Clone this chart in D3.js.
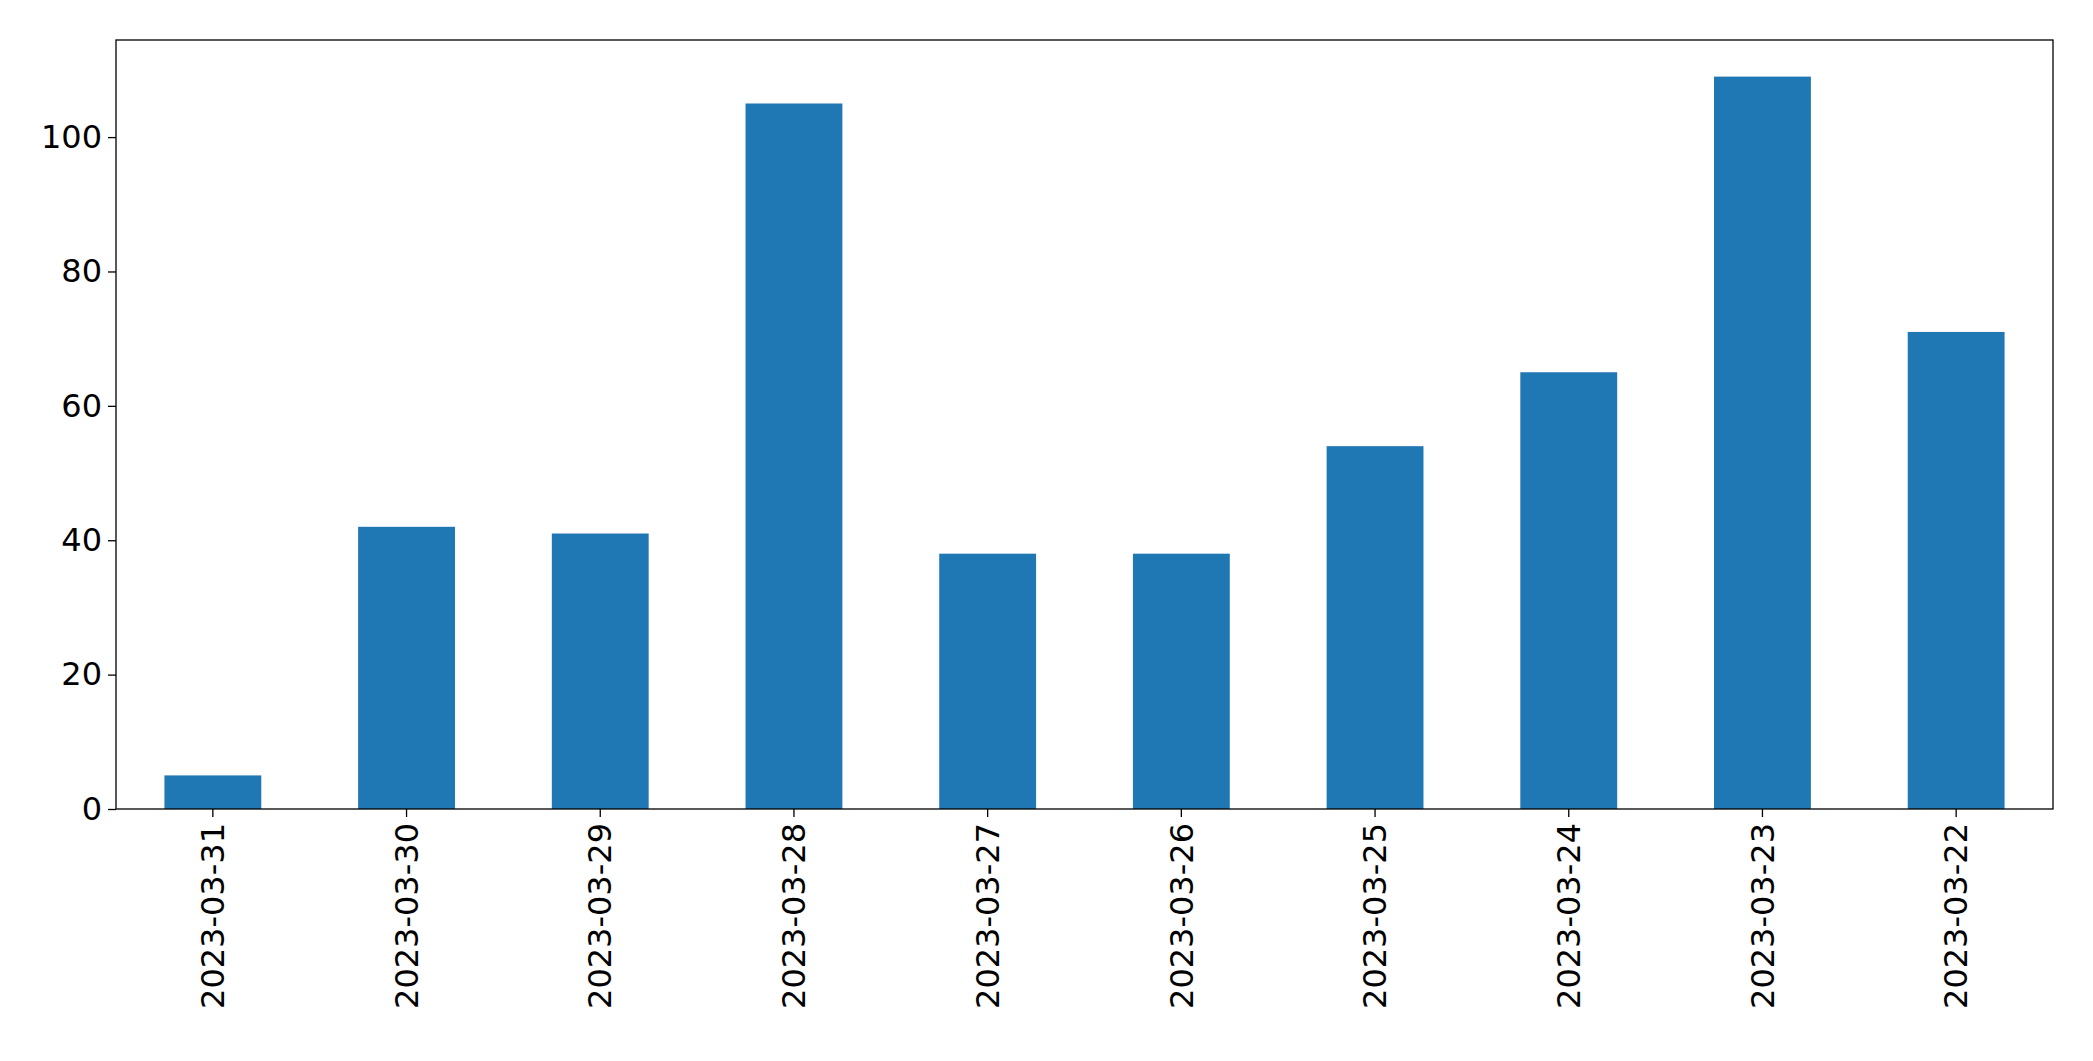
<!DOCTYPE html>
<html>
<head>
<meta charset="utf-8">
<script src="https://cdn.jsdelivr.net/npm/d3@7"></script>
<style>
body { margin: 0; background: #fff; }
text { font-family: "DejaVu Sans", sans-serif; }
</style>
</head>
<body>
<svg id="chart" width="2093" height="1061"></svg>
<script>
// dates as shown on the x axis (newest first)
var categories = ["2023-03-31", "2023-03-30", "2023-03-29", "2023-03-28", "2023-03-27",
  "2023-03-26", "2023-03-25", "2023-03-24", "2023-03-23", "2023-03-22"];
var values = [5, 42, 41, 105, 38, 38, 54, 65, 109, 71];
var yTicks = [0, 20, 40, 60, 80, 100];

var margin = { top: 40, right: 40, bottom: 252, left: 116 };
var width = 2093 - margin.left - margin.right;
var height = 1061 - margin.top - margin.bottom;

var svg = d3.select("#chart");
var g = svg.append("g").attr("transform", "translate(" + margin.left + "," + margin.top + ")");

var x = d3.scaleBand().domain(categories).range([0, width]).paddingInner(0.5).paddingOuter(0.25);
var y = d3.scaleLinear().domain([0, d3.max(values) * 1.05]).range([height, 0]);

g.selectAll(".bar").data(values).enter().append("rect")
  .attr("class", "bar")
  .attr("x", function(d, i) { return x(categories[i]); })
  .attr("y", function(d) { return y(d); })
  .attr("width", x.bandwidth())
  .attr("height", function(d) { return height - y(d); })
  .attr("fill", "#1f77b4");

var yAxis = g.append("g").call(d3.axisLeft(y).tickValues(yTicks).tickSize(8).tickPadding(6));
yAxis.selectAll("text").attr("font-size", 32).attr("fill", "#000");

var xAxis = g.append("g").attr("transform", "translate(0," + height + ")")
  .call(d3.axisBottom(x).tickSize(8).tickPadding(6));
xAxis.selectAll("text")
  .attr("font-size", 32).attr("fill", "#000")
  .attr("transform", "rotate(-90)")
  .attr("text-anchor", "end")
  .attr("x", -14).attr("y", 0).attr("dy", "0.35em");

[yAxis, xAxis].forEach(function(a) {
  a.select(".domain").remove();
  a.selectAll("line").attr("stroke", "#000").attr("stroke-width", 1.3);
});

g.append("rect").attr("width", width).attr("height", height)
  .attr("fill", "none").attr("stroke", "#000").attr("stroke-width", 1.3);
</script>
</body>
</html>
